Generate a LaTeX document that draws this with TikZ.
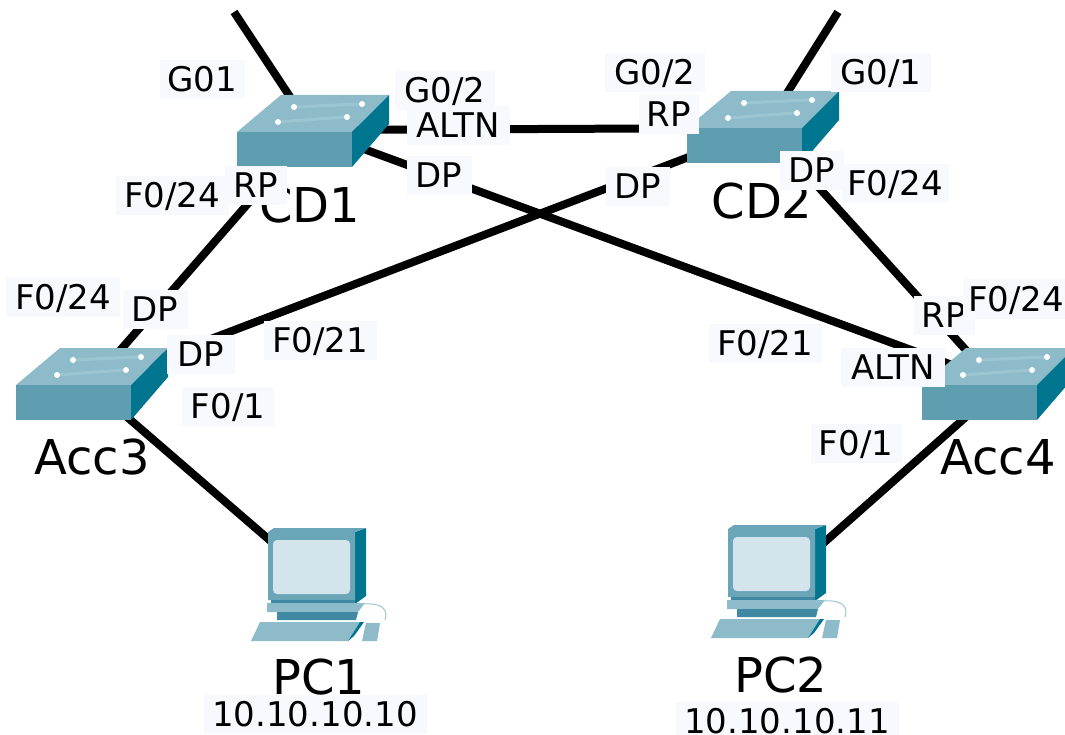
\documentclass[tikz,border=0pt]{standalone}
\usepackage{fontspec}
\setmainfont{DejaVu Sans}
\definecolor{swfront}{HTML}{5F9DB0}
\definecolor{swtop}{HTML}{8DBBCA}
\definecolor{swstripe}{HTML}{9CC5D2}
\definecolor{swside}{HTML}{00758F}
\definecolor{pcbody}{HTML}{6AA5B8}
\definecolor{pcdark}{HTML}{3F8AA2}
\definecolor{pcscreen}{HTML}{D4E4EC}
\definecolor{labelbg}{HTML}{F8F9FF}
\tikzset{
  link/.style={line width=8pt},
  devname/.style={font=\fontsize{48}{48}\selectfont, inner sep=0pt},
  portlabel/.style={font=\fontsize{34}{34}\selectfont, fill=labelbg, inner sep=0pt,
    text height=24pt, text depth=0pt, minimum height=39pt},
  switchicon/.pic={
    \fill[swtop] (0,0)--(44,-37)--(152,-37)--(115,0)--cycle;
    \fill[swfront] (0,0) rectangle (115,35);
    \fill[swside] (115,0)--(152,-37)--(152,-8)--(115,35)--cycle;
    \draw[swstripe, line width=3pt] (57,-25)--(122,-28) (41,-10)--(108,-15);
    \foreach \x/\y in {57/-25,125/-28,41/-10,110/-15}{
      \fill[white] (\x,\y) circle(3);}
  },
  pcicon/.pic={
    \fill[swside] (87,4)--(98,0)--(98,68)--(87,76)--cycle;
    \fill[pcbody] (0,4)--(6,0)--(98,0)--(87,4)--(87,72)--(0,72)--cycle;
    \fill[pcscreen, rounded corners=4pt] (5,12) rectangle (82,66);
    \fill[pcdark] (3,72) rectangle (87,79);
    \fill[swtop] (-1,75)--(97,75)--(90,84)--(-1,84)--cycle;
    \fill[pcdark] (9,84)--(90,84)--(88,92)--(9,92)--cycle;
    \fill[swtop] (-8,94)--(92,94)--(80,113)--(-17,113)--cycle;
    \fill[swside] (92,94)--(96,94)--(86,108)--(80,113)--cycle;
    \fill[swtop] (98,95)--(112,95)--(109,113)--(94,113)--cycle;
    \draw[swstripe, line width=1pt] (87,77) .. controls (105,74) and (122,76) .. (117,92);
  }
}
\begin{document}
\begin{tikzpicture}[x=1pt,y=-1pt]
\useasboundingbox (0,0) rectangle (1065,735);

\coordinate (CD1) at (312,130);
\coordinate (CD2) at (765,128);
\coordinate (Acc3) at (90,385);
\coordinate (Acc4) at (993,380);
\coordinate (Acc4b) at (993,393);
\coordinate (PC1) at (310,575);
\coordinate (PC2) at (775,586);
\coordinate (upCD1) at (234,12);
\coordinate (upCD2) at (838,12);

%%%%%%%%%%%%%-------------links
\draw[link] (CD1)--(upCD1);
\draw[link] (CD2)--(upCD2);
\draw[link] (CD1)--(CD2);
\draw[link] (CD1)--(Acc3);
\draw[link] (CD1)--(Acc4);
\draw[link] (CD2)--(Acc3);
\draw[link] (CD2)--(Acc4);
\draw[link] (Acc3)--(PC1);
\draw[link] (Acc4b)--(PC2);

%%%%%%%%%%%%%-------------devices
\pic (iconCD1) at (237,132) {switchicon};
\pic (iconCD2) at (687,128) {switchicon};
\pic (iconAcc3) at (16,385) {switchicon};
\pic (iconAcc4) at (922,385) {switchicon};
\pic (iconPC1) at (268,528) {pcicon};
\pic (iconPC2) at (728,525) {pcicon};

\node[devname] (nameCD1) at (310,205) {CD1};
\node[devname] (nameCD2) at (762,201) {CD2};
\node[devname] (nameAcc3) at (92,457) {Acc3};
\node[devname] (nameAcc4) at (998,457) {Acc4};
\node[devname] (namePC1) at (319,677) {PC1};
\node[devname] (namePC2) at (781,675) {PC2};

%%%%%%%%%%%%%-------------labels CD1
\node[portlabel, minimum width=85pt] (gCDa) at (202,80) {G01};
\node[portlabel, minimum width=100pt] (gCDb) at (445,91) {G0/2};
\node[portlabel, minimum width=103pt] (altnCD) at (458,126) {ALTN};
\node[portlabel, minimum width=65pt] (dpCDa) at (439,176) {DP};
\node[portlabel, minimum width=62pt] (rpCD) at (256,186) {RP};
\node[portlabel, minimum width=113pt] (fCDa) at (172,196) {F0/24};

%%%%%%%%%%%%%-------------labels CD2
\node[portlabel, minimum width=100pt] (gCDc) at (655,73) {G0/2};
\node[portlabel, minimum width=60pt] (rpCDb) at (669,115) {RP};
\node[portlabel, minimum width=100pt] (gCDd) at (881,73) {G0/1};
\node[portlabel, minimum width=64pt] (dpCDb) at (638,187) {DP};
\node[portlabel, minimum width=64pt] (dpCDc) at (812,171) {DP};
\node[portlabel, minimum width=107pt] (fCDb) at (895,184) {F0/24};

%%%%%%%%%%%%%-------------labels Acc3
\node[portlabel, minimum width=114pt] (fAcca) at (63,297) {F0/24};
\node[portlabel, minimum width=65pt] (dpAcca) at (155,309) {DP};
\node[portlabel, minimum width=68pt] (dpAccb) at (201,354) {DP};
\node[portlabel, minimum width=113pt] (fAccb) at (320,340) {F0/21};
\node[portlabel, minimum width=92pt] (fAccc) at (228,406) {F0/1};

%%%%%%%%%%%%%-------------labels Acc4
\node[portlabel, minimum width=61pt] (rpAcc) at (944,315) {RP};
\node[portlabel, minimum width=106pt] (fAccd) at (1016,299) {F0/24};
\node[portlabel, minimum width=113pt] (fAcce) at (765,343) {F0/21};
\node[portlabel, minimum width=104pt] (altnAcc) at (893,367) {ALTN};
\node[portlabel, minimum width=91pt] (fAccf) at (856,443) {F0/1};

%%%%%%%%%%%%%-------------addresses
\node[portlabel, minimum width=223pt] (ipPC1) at (315,714) {10.10.10.10};
\node[portlabel, minimum width=223pt] (ipPC2) at (787,721) {10.10.10.11};

\end{tikzpicture}
\end{document}
